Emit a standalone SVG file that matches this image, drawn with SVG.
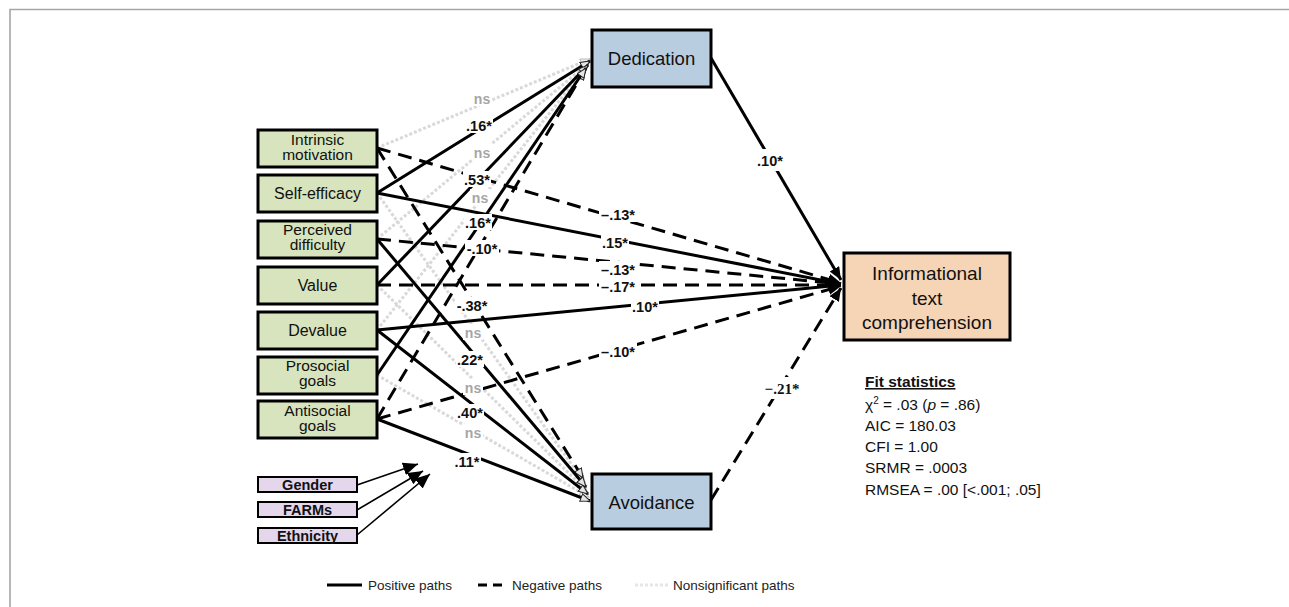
<svg xmlns="http://www.w3.org/2000/svg" width="1289" height="607" viewBox="0 0 1289 607">
<style>
.frame{fill:none;stroke:#a6a6a6;stroke-width:1.6}
.pred rect{fill:#d7e4bd;stroke:#000;stroke-width:3}
.med rect{fill:#b9cde0;stroke:#000;stroke-width:3}
.out rect{fill:#f6d4b6;stroke:#000;stroke-width:3}
.cov rect{fill:#e4d7ec;stroke:#000;stroke-width:2}
.nt{font-family:"Liberation Sans",Arial,sans-serif;fill:#111;text-anchor:middle}
.ct{font-family:"Liberation Sans",Arial,sans-serif;font-weight:bold;font-size:14.5px;fill:#111;text-anchor:middle}
.pos{fill:none;stroke:#000;stroke-width:3}
.neg{fill:none;stroke:#000;stroke-width:3;stroke-dasharray:14 8}
.ns{fill:none;stroke:#d9d9d9;stroke-width:3;stroke-dasharray:3 2}
.cv{fill:none;stroke:#000;stroke-width:1.6}
.lb{font-family:"Liberation Sans",Arial,sans-serif;font-weight:bold;font-size:14.5px;fill:#111;text-anchor:middle}
.lbg{font-family:"Liberation Sans",Arial,sans-serif;font-weight:bold;font-size:14px;fill:#a6a6a6;text-anchor:middle}
.bg{fill:#fff}
.fit{font-family:"Liberation Sans",Arial,sans-serif;font-size:15.5px;fill:#111}
.leg{font-family:"Liberation Sans",Arial,sans-serif;font-size:13.5px;fill:#222}
</style>
<defs>
<marker id="aOpen" markerUnits="userSpaceOnUse" markerWidth="12" markerHeight="10" refX="10" refY="4.5" orient="auto"><path d="M0.5,0.5 L10,4.5 L0.5,8.5 Z" fill="#e6e6e6" stroke="#222" stroke-width="1"/></marker>
<marker id="aNs" markerUnits="userSpaceOnUse" markerWidth="12" markerHeight="10" refX="10" refY="4.5" orient="auto"><path d="M0.5,0.5 L10,4.5 L0.5,8.5 Z" fill="#ececec" stroke="#bbb" stroke-width="1"/></marker>
<marker id="aBlk" markerUnits="userSpaceOnUse" markerWidth="14" markerHeight="12" refX="13" refY="5.5" orient="auto"><path d="M0,0 L13,5.5 L0,11 Z" fill="#000"/></marker>
<marker id="aCv" markerUnits="userSpaceOnUse" markerWidth="16" markerHeight="14" refX="15" refY="6.5" orient="auto"><path d="M0,0 L15,6.5 L0,13 Z" fill="#000"/></marker>
</defs>

<path class="frame" d="M10,607 L10,9.5 L1289,9.5"/>

<g id="connectors">
  <!-- nonsignificant -->
  <path class="ns" d="M377,148 L590,59" marker-end="url(#aNs)"/>
  <path class="ns" d="M377,239 L589,63" marker-end="url(#aNs)"/>
  <path class="ns" d="M377,330 L587,66" marker-end="url(#aNs)"/>
  <path class="ns" d="M377,193 L585,483" marker-end="url(#aNs)"/>
  <path class="ns" d="M377,285 L587,491" marker-end="url(#aNs)"/>
  <path class="ns" d="M377,375 L589,497" marker-end="url(#aNs)"/>
  <!-- negative -->
  <path class="neg" d="M377,419 L585,70" marker-end="url(#aOpen)"/>
  <path class="neg" d="M377,148 L583,478" marker-end="url(#aOpen)"/>
  <path class="neg" d="M377,148 L841,283" marker-end="url(#aBlk)"/>
  <path class="neg" d="M377,239 L841,284" marker-end="url(#aBlk)"/>
  <path class="neg" d="M377,285 L841,285" marker-end="url(#aBlk)"/>
  <path class="neg" d="M377,419 L841,286" marker-end="url(#aBlk)"/>
  <path class="neg" d="M711,500 L841,288" marker-end="url(#aBlk)"/>
  <!-- positive -->
  <path class="pos" d="M377,193 L590,61" marker-end="url(#aOpen)"/>
  <path class="pos" d="M377,285 L588,65" marker-end="url(#aOpen)"/>
  <path class="pos" d="M377,375 L586,68" marker-end="url(#aOpen)"/>
  <path class="pos" d="M377,239 L586,487" marker-end="url(#aOpen)"/>
  <path class="pos" d="M377,330 L588,494" marker-end="url(#aOpen)"/>
  <path class="pos" d="M377,419 L590,501" marker-end="url(#aOpen)"/>
  <path class="pos" d="M377,193 L841,284" marker-end="url(#aBlk)"/>
  <path class="pos" d="M377,330 L841,285" marker-end="url(#aBlk)"/>
  <path class="pos" d="M711,58 L841,280" marker-end="url(#aBlk)"/>
  <!-- covariates -->
  <path class="cv" d="M357,485 L418,464" marker-end="url(#aCv)"/>
  <path class="cv" d="M357,510 L423,471" marker-end="url(#aCv)"/>
  <path class="cv" d="M357,535 L430,474" marker-end="url(#aCv)"/>

  <!-- labels -->
  <g id="labels">
    <rect class="bg" x="472" y="90" width="20" height="16"/><text class="lbg" x="482" y="104">ns</text>
    <rect class="bg" x="465" y="117" width="28" height="16"/><text class="lb" x="479" y="131">.16*</text>
    <rect class="bg" x="472" y="144" width="20" height="16"/><text class="lbg" x="482" y="158">ns</text>
    <rect class="bg" x="463" y="171" width="28" height="16"/><text class="lb" x="477" y="185">.53*</text>
    <rect class="bg" x="470" y="189" width="20" height="16"/><text class="lbg" x="480" y="203">ns</text>
    <rect class="bg" x="464" y="214" width="28" height="16"/><text class="lb" x="478" y="228">.16*</text>
    <rect class="bg" x="465" y="240" width="34" height="16"/><text class="lb" x="482" y="254">-.10*</text>
    <rect class="bg" x="455" y="297" width="34" height="16"/><text class="lb" x="472" y="311">-.38*</text>
    <rect class="bg" x="463" y="324" width="20" height="16"/><text class="lbg" x="473" y="338">ns</text>
    <rect class="bg" x="456" y="351" width="28" height="16"/><text class="lb" x="470" y="365">.22*</text>
    <rect class="bg" x="463" y="379" width="20" height="16"/><text class="lbg" x="473" y="393">ns</text>
    <rect class="bg" x="456" y="404" width="28" height="16"/><text class="lb" x="470" y="418">.40*</text>
    <rect class="bg" x="463" y="424" width="20" height="16"/><text class="lbg" x="473" y="438">ns</text>
    <rect class="bg" x="453" y="453" width="28" height="16"/><text class="lb" x="467" y="467">.11*</text>
    <rect class="bg" x="599" y="206" width="38" height="16"/><text class="lb" x="618" y="220">–.13*</text>
    <rect class="bg" x="601" y="234" width="28" height="16"/><text class="lb" x="615" y="248">.15*</text>
    <rect class="bg" x="599" y="261" width="38" height="16"/><text class="lb" x="618" y="275">–.13*</text>
    <rect class="bg" x="599" y="278" width="38" height="16"/><text class="lb" x="618" y="292">–.17*</text>
    <rect class="bg" x="631" y="298" width="28" height="16"/><text class="lb" x="645" y="312">.10*</text>
    <rect class="bg" x="599" y="343" width="38" height="16"/><text class="lb" x="618" y="357">–.10*</text>
    <rect class="bg" x="754" y="149" width="32" height="22"/><text class="lb" x="770" y="166">.10*</text>
    <rect class="bg" x="762" y="377" width="40" height="22"/><text x="782" y="394" style="font-family:'Liberation Serif','Times New Roman',serif;font-weight:bold;font-size:15px;fill:#111;text-anchor:middle">−.21*</text>
  </g>
</g>

<g id="intrinsic" class="pred"><rect x="258" y="130" width="119" height="37"/><text class="nt" font-size="15.5" x="317.5" y="145">Intrinsic</text><text class="nt" font-size="15.5" x="317.5" y="160">motivation</text></g>
<g id="selfefficacy" class="pred"><rect x="258" y="175" width="119" height="37"/><text class="nt" font-size="16" x="317.5" y="199">Self-efficacy</text></g>
<g id="difficulty" class="pred"><rect x="258" y="221" width="119" height="37"/><text class="nt" font-size="15.5" x="317.5" y="235">Perceived</text><text class="nt" font-size="15.5" x="317.5" y="250">difficulty</text></g>
<g id="value" class="pred"><rect x="258" y="267" width="119" height="37"/><text class="nt" font-size="16" x="317.5" y="291">Value</text></g>
<g id="devalue" class="pred"><rect x="258" y="312" width="119" height="37"/><text class="nt" font-size="16" x="317.5" y="336">Devalue</text></g>
<g id="prosocial" class="pred"><rect x="258" y="357" width="119" height="37"/><text class="nt" font-size="15.5" x="317.5" y="371">Prosocial</text><text class="nt" font-size="15.5" x="317.5" y="386">goals</text></g>
<g id="antisocial" class="pred"><rect x="258" y="401" width="119" height="37"/><text class="nt" font-size="15.5" x="317.5" y="416">Antisocial</text><text class="nt" font-size="15.5" x="317.5" y="431">goals</text></g>

<g id="gender" class="cov"><rect x="258" y="477" width="99" height="15"/><text class="ct" x="307.5" y="490">Gender</text></g>
<g id="farms" class="cov"><rect x="258" y="502" width="99" height="15"/><text class="ct" x="307.5" y="515">FARMs</text></g>
<g id="ethnicity" class="cov"><rect x="258" y="528" width="99" height="15"/><text class="ct" x="307.5" y="541">Ethnicity</text></g>

<g id="dedication" class="med"><rect x="592" y="30" width="119" height="57"/><text class="nt" font-size="18.5" x="651.5" y="64.5">Dedication</text></g>
<g id="avoidance" class="med"><rect x="592" y="474" width="119" height="55"/><text class="nt" font-size="18.5" x="651.5" y="509">Avoidance</text></g>
<g id="comprehension" class="out"><rect x="844" y="253" width="166" height="87"/><text class="nt" font-size="19" x="927" y="280">Informational</text><text class="nt" font-size="19" x="927" y="304.5">text</text><text class="nt" font-size="19" x="927" y="329">comprehension</text></g>

<g id="fit">
  <text class="fit" x="865" y="387" font-weight="bold" text-decoration="underline">Fit statistics</text>
  <text class="fit" x="865" y="410">χ<tspan font-size="10" dy="-6">2</tspan><tspan dy="6"> = .03 (</tspan><tspan font-style="italic">p</tspan> = .86)</text>
  <text class="fit" x="865" y="431">AIC = 180.03</text>
  <text class="fit" x="865" y="452">CFI = 1.00</text>
  <text class="fit" x="865" y="473">SRMR = .0003</text>
  <text class="fit" x="865" y="495">RMSEA = .00 [&lt;.001; .05]</text>
</g>

<g id="legend">
  <path class="pos" d="M327,585 L362,585"/>
  <text class="leg" x="368" y="590">Positive paths</text>
  <path class="neg" d="M478,585 L503,585" style="stroke-dasharray:9 6"/>
  <text class="leg" x="512" y="590">Negative paths</text>
  <path class="ns" d="M635,585 L670,585" style="stroke:#e6e6e6"/>
  <text class="leg" x="673" y="590">Nonsignificant paths</text>
</g>
</svg>
